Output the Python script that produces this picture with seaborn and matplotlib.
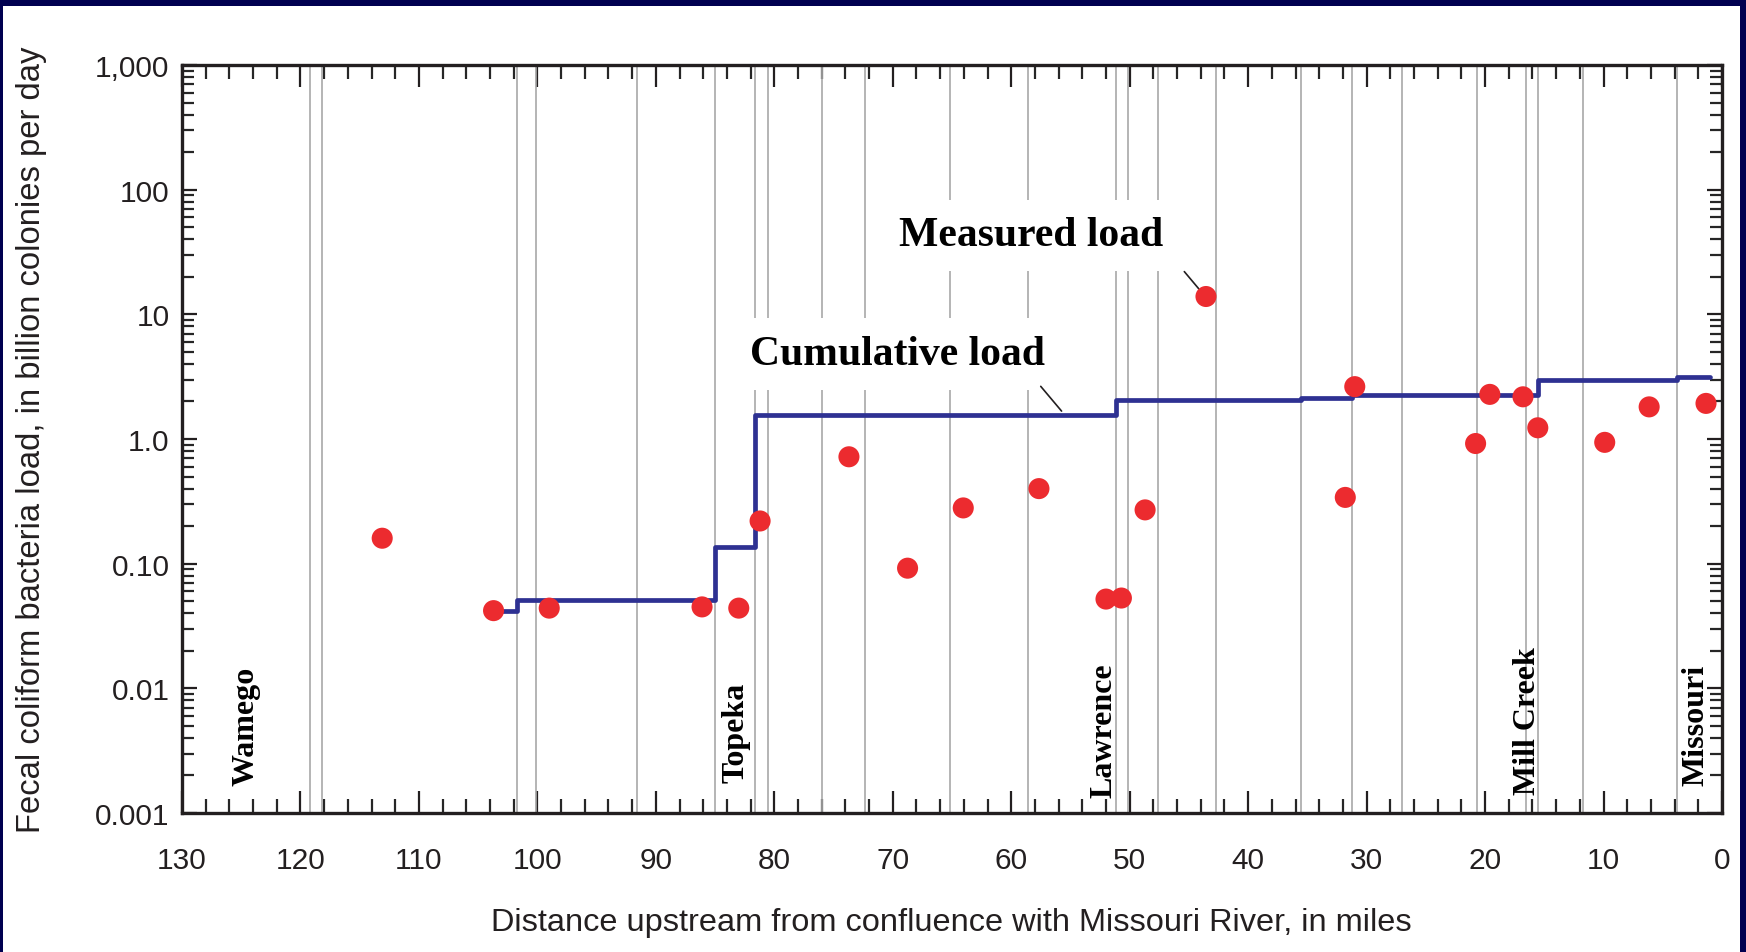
import matplotlib
matplotlib.use("Agg")
import matplotlib.pyplot as plt
from matplotlib.patches import Rectangle
from matplotlib.ticker import FixedLocator, LogLocator, NullFormatter, FixedFormatter
import numpy as np
import pandas as pd
import seaborn as sns

# Measured fecal coliform loads at sampling sites (river mile, billion colonies/day)
site_miles = [113.1, 103.7, 99.0, 86.1, 83.0, 81.2, 73.7, 68.75, 64.05, 57.66,
              52.0, 50.7, 48.7, 43.56, 31.8, 31.0, 20.8, 19.6, 16.8, 15.55,
              9.9, 6.15, 1.35]
measured_load = [0.16, 0.042, 0.044, 0.045, 0.044, 0.22, 0.72, 0.092, 0.28, 0.40,
                 0.052, 0.053, 0.27, 13.9, 0.34, 2.63, 0.92, 2.28, 2.18, 1.23,
                 0.94, 1.81, 1.93]

# Cumulative load: river mile where each step begins and the load carried downstream
step_miles = [103.2, 101.75, 85.0, 81.63, 51.15, 35.56, 31.26, 15.5, 3.82, 1.0]
step_load = [0.042, 0.051, 0.137, 1.55, 2.05, 2.12, 2.27, 2.98, 3.12, 3.12]

# Inflow locations (tributaries and point sources)
inflow_miles = [119.2, 118.2, 101.75, 100.14, 91.6, 85.0, 81.63, 80.56, 75.95,
                72.34, 65.17, 58.61, 51.15, 50.17, 47.58, 42.71, 35.56, 31.26,
                26.98, 20.71, 16.54, 15.5, 11.76, 3.82]

place_names = ["Wamego", "Topeka", "Lawrence", "Mill Creek", "Missouri"]
place_miles = [124.6, 83.2, 52.2, 16.4, 2.2]

x_ticks = list(range(130, -1, -10))
y_ticks = [0.001, 0.01, 0.1, 1, 10, 100, 1000]
y_tick_labels = ["0.001", "0.01", "0.10", "1.0", "10", "100", "1,000"]

x_label = "Distance upstream from confluence with Missouri River, in miles"
y_label = "Fecal coliform bacteria load, in billion colonies per day"

# ---- styling ----
NAVY = "#000050"
INK = "#231F20"
LINE_BLUE = "#2E3192"
DOT_RED = "#EC2B2F"
GRID_GRAY = "#A8A8A8"

sns.set_style("ticks")
plt.rcParams["font.family"] = ["Liberation Sans Narrow", "Liberation Sans", "DejaVu Sans"]
serif = ["Liberation Serif", "DejaVu Serif"]

W, H = 1746, 953
fig = plt.figure(figsize=(W / 100, H / 100), dpi=100, facecolor=NAVY)
fig.patches.append(Rectangle((3 / W, 0), (1740 - 3) / W, (H - 7) / H,
                             transform=fig.transFigure, facecolor="white",
                             edgecolor="none", zorder=-10))

ax = fig.add_axes([182 / W, 139 / H, 1540 / W, 748 / H])
ax.set_facecolor("white")

# vertical reference lines at inflows
for m in inflow_miles:
    ax.axvline(m, color=GRID_GRAY, lw=1.2, zorder=1)

steps = pd.DataFrame({"mile": step_miles, "load": step_load})
sns.lineplot(data=steps, x="mile", y="load", sort=False, estimator=None,
             drawstyle="steps-post", color=LINE_BLUE, lw=3.4, ax=ax, zorder=3)

sites = pd.DataFrame({"mile": site_miles, "load": measured_load})
sns.scatterplot(data=sites, x="mile", y="load", color=DOT_RED, s=230,
                edgecolor="none", linewidth=0, ax=ax, zorder=4)

ax.set_yscale("log")
ax.set_xlim(130, 0)
ax.set_ylim(0.001, 1000)

# axes ticks: inward on all four sides
ax.xaxis.set_major_locator(FixedLocator(x_ticks))
ax.xaxis.set_minor_locator(FixedLocator(list(range(130, -1, -2))))
ax.set_xticklabels([str(t) for t in x_ticks])
ax.yaxis.set_major_locator(FixedLocator(y_ticks))
ax.yaxis.set_major_formatter(FixedFormatter(y_tick_labels))
ax.yaxis.set_minor_locator(LogLocator(base=10, subs=np.arange(2, 10), numticks=20))
ax.yaxis.set_minor_formatter(NullFormatter())

ax.tick_params(axis="x", which="major", direction="in", length=16, width=1.6,
               top=True, bottom=True, labelsize=21.5, pad=24, colors=INK)
ax.tick_params(axis="x", which="minor", direction="in", length=10, width=1.6,
               top=True, bottom=True)
ax.tick_params(axis="y", which="major", direction="in", length=11, width=1.6,
               left=True, right=True, labelsize=21.5, pad=9, colors=INK)
ax.tick_params(axis="y", which="minor", direction="in", length=8.5, width=1.6,
               left=True, right=True)
for s in ax.spines.values():
    s.set_visible(True)
    s.set_linewidth(2.4)
    s.set_color(INK)

ax.set_xlabel(x_label, fontsize=23.4, color=INK, va="center")
ax.xaxis.set_label_coords(0.4994, -0.146)
ax.set_ylabel(y_label, fontsize=23.6, color=INK, va="center")
ax.yaxis.set_label_coords(-0.0975, 0.5)

# place names along the river
name_base = [0.037, 0.041, 0.022, 0.025, 0.037]
for name, m, b in zip(place_names, place_miles, name_base):
    ax.text(m, b, name, transform=ax.get_xaxis_transform(), rotation=90,
            ha="center", va="bottom", fontsize=23, fontweight="bold",
            family=serif, color="black", zorder=5)

# callouts
box = dict(facecolor="white", edgecolor="none", pad=12)
ax.text(58.3, 43, "Measured load", ha="center", va="center", fontsize=30,
        fontweight="bold", family=serif, color="black", bbox=box, zorder=5)
ax.annotate("", xy=(44.04, 15.5), xytext=(45.54, 22.9),
            arrowprops=dict(arrowstyle="-", color=INK, lw=1.2), zorder=5)
ax.text(69.6, 4.8, "Cumulative load", ha="center", va="center", fontsize=30,
        fontweight="bold", family=serif, color="black", bbox=box, zorder=5)
ax.annotate("", xy=(55.6, 1.61), xytext=(57.66, 2.75),
            arrowprops=dict(arrowstyle="-", color=INK, lw=1.2), zorder=5)

fig.savefig("out.png", dpi=100, facecolor=NAVY)
